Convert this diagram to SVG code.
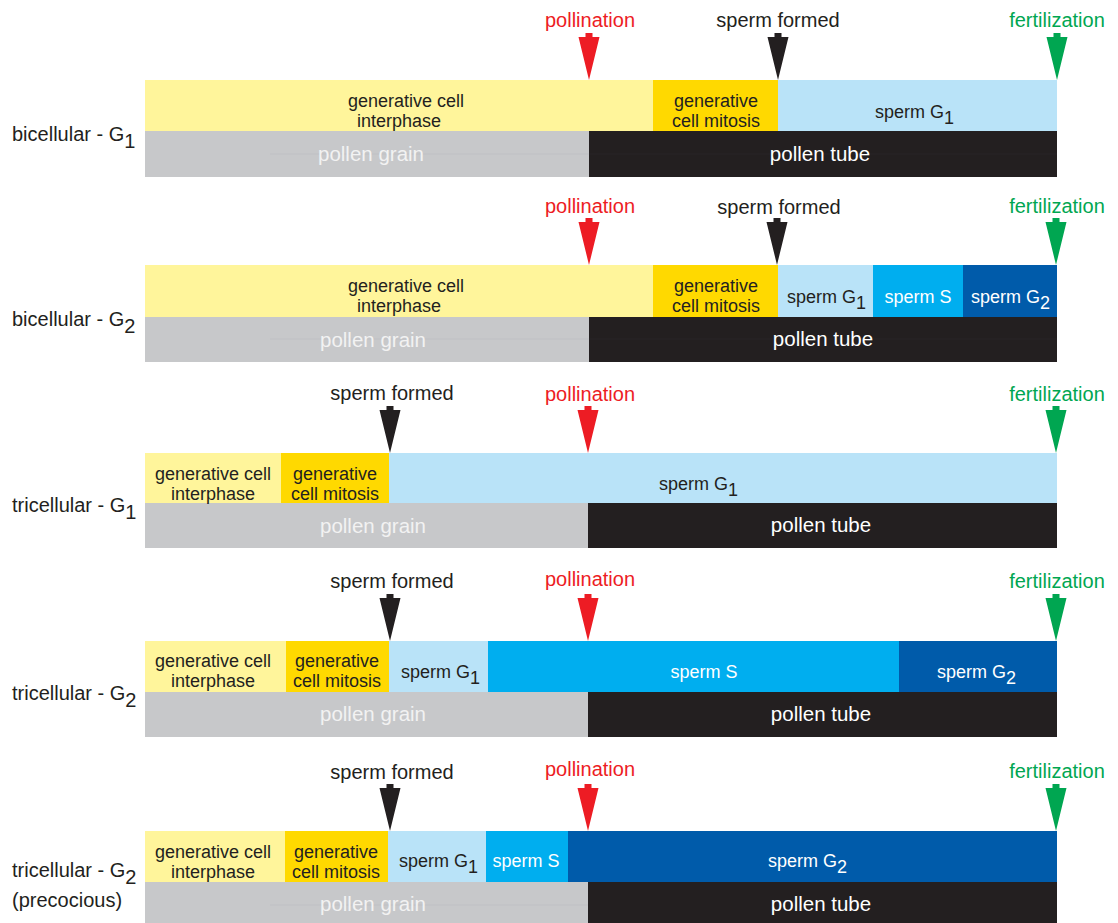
<svg xmlns="http://www.w3.org/2000/svg" xmlns:xlink="http://www.w3.org/1999/xlink" width="1118" height="923" viewBox="0 0 1118 923">
<style>
text{font-family:"Liberation Sans",Arial,sans-serif;}
.lbl{font-size:20px;text-anchor:middle;}
.side{font-size:20px;fill:#231f20;}
.bar{font-size:18px;fill:#231f20;}
.mid{text-anchor:middle;}
.w{fill:#ffffff;}
.pg{font-size:20.5px;fill:#f2f2f2;text-anchor:middle;}
.pt{font-size:20.5px;fill:#ffffff;text-anchor:middle;}
.red{fill:#ed1c24;}
.blk{fill:#231f20;}
.grn{fill:#00a651;}
.c-int{fill:#fff59b;}
.c-mit{fill:#ffd900;}
.c-g1{fill:#b9e3f8;}
.c-s{fill:#00aeef;}
.c-g2{fill:#005baa;}
.c-grain{fill:#c7c8ca;}
.c-tube{fill:#231f20;}
.seam{stroke:#bcbdbf;stroke-width:0.6;}
.seamd{stroke:#2e2a2b;stroke-width:0.6;}
</style>
<defs>
<path id="arr" d="M-3.5,-47 h7 v4 h7 L0,0 L-10.5,-43 h7 z"/>
</defs>

<g id="row1">
<text class="side" x="12" y="141">bicellular - G<tspan dy="7">1</tspan></text>
<rect class="c-int" x="145" y="80" width="509" height="51"/>
<rect class="c-mit" x="653" y="80" width="125" height="51"/>
<rect class="c-g1" x="778" y="80" width="279" height="51"/>
<rect class="c-grain" x="145" y="131" width="444" height="46"/>
<rect class="c-tube" x="589" y="131" width="468" height="46"/>
<line class="seam" x1="270" y1="154" x2="589" y2="154"/>
<line class="seamd" x1="589" y1="154" x2="1057" y2="154"/>
<text class="bar mid" x="406" y="107">generative cell</text>
<text class="bar mid" x="399" y="127">interphase</text>
<text class="bar mid" x="716" y="107">generative</text>
<text class="bar mid" x="716" y="127">cell mitosis</text>
<text class="bar" x="875" y="118">sperm G<tspan dy="6">1</tspan></text>
<text class="pg" x="371" y="161">pollen grain</text>
<text class="pt" x="820" y="161">pollen tube</text>
</g>

<g id="row2">
<text class="side" x="12" y="326">bicellular - G<tspan dy="7">2</tspan></text>
<rect class="c-int" x="145" y="265" width="509" height="52"/>
<rect class="c-mit" x="653" y="265" width="125" height="52"/>
<rect class="c-g1" x="778" y="265" width="95" height="52"/>
<rect class="c-s" x="873" y="265" width="90" height="52"/>
<rect class="c-g2" x="963" y="265" width="94" height="52"/>
<rect class="c-grain" x="145" y="317" width="444" height="45"/>
<rect class="c-tube" x="589" y="317" width="468" height="45"/>
<line class="seam" x1="270" y1="339" x2="589" y2="339"/>
<line class="seamd" x1="589" y1="339" x2="1057" y2="339"/>
<text class="bar mid" x="406" y="292">generative cell</text>
<text class="bar mid" x="399" y="312">interphase</text>
<text class="bar mid" x="716" y="292">generative</text>
<text class="bar mid" x="716" y="312">cell mitosis</text>
<text class="bar" x="787" y="303">sperm G<tspan dy="6">1</tspan></text>
<text class="bar w mid" x="918" y="303">sperm S</text>
<text class="bar w" x="971" y="303">sperm G<tspan dy="6">2</tspan></text>
<text class="pg" x="373" y="347">pollen grain</text>
<text class="pt" x="823" y="346">pollen tube</text>
</g>

<g id="row3">
<text class="side" x="12" y="512">tricellular - G<tspan dy="7">1</tspan></text>
<rect class="c-int" x="145" y="453" width="137" height="50"/>
<rect class="c-mit" x="281" y="453" width="109" height="50"/>
<rect class="c-g1" x="389" y="453" width="668" height="50"/>
<rect class="c-grain" x="145" y="503" width="444" height="45"/>
<rect class="c-tube" x="588" y="503" width="469" height="45"/>
<text class="bar mid" x="213" y="480">generative cell</text>
<text class="bar mid" x="213" y="500">interphase</text>
<text class="bar mid" x="335" y="480">generative</text>
<text class="bar mid" x="335" y="500">cell mitosis</text>
<text class="bar" x="659" y="490">sperm G<tspan dy="6">1</tspan></text>
<text class="pg" x="373" y="533">pollen grain</text>
<text class="pt" x="821" y="532">pollen tube</text>
</g>

<g id="row4">
<text class="side" x="12" y="700">tricellular - G<tspan dy="7">2</tspan></text>
<rect class="c-int" x="145" y="641" width="142" height="51"/>
<rect class="c-mit" x="286" y="641" width="104" height="51"/>
<rect class="c-g1" x="389" y="641" width="100" height="51"/>
<rect class="c-s" x="488" y="641" width="412" height="51"/>
<rect class="c-g2" x="899" y="641" width="158" height="51"/>
<rect class="c-grain" x="145" y="692" width="444" height="45"/>
<rect class="c-tube" x="588" y="692" width="469" height="45"/>
<text class="bar mid" x="213" y="667">generative cell</text>
<text class="bar mid" x="213" y="687">interphase</text>
<text class="bar mid" x="337" y="667">generative</text>
<text class="bar mid" x="337" y="687">cell mitosis</text>
<text class="bar" x="401" y="678">sperm G<tspan dy="6">1</tspan></text>
<text class="bar w mid" x="704" y="678">sperm S</text>
<text class="bar w" x="937" y="678">sperm G<tspan dy="6">2</tspan></text>
<text class="pg" x="373" y="721">pollen grain</text>
<text class="pt" x="821" y="721">pollen tube</text>
</g>

<g id="row5">
<text class="side" x="12" y="877">tricellular - G<tspan dy="7">2</tspan></text>
<text class="side" x="12" y="907">(precocious)</text>
<rect class="c-int" x="145" y="831" width="141" height="51"/>
<rect class="c-mit" x="285" y="831" width="104" height="51"/>
<rect class="c-g1" x="388" y="831" width="99" height="51"/>
<rect class="c-s" x="486" y="831" width="83" height="51"/>
<rect class="c-g2" x="568" y="831" width="489" height="51"/>
<rect class="c-grain" x="145" y="882" width="444" height="45"/>
<rect class="c-tube" x="588" y="882" width="469" height="45"/>
<line class="seam" x1="270" y1="905" x2="588" y2="905"/>
<text class="bar mid" x="213" y="858">generative cell</text>
<text class="bar mid" x="213" y="878">interphase</text>
<text class="bar mid" x="336" y="858">generative</text>
<text class="bar mid" x="336" y="878">cell mitosis</text>
<text class="bar" x="399" y="867">sperm G<tspan dy="6">1</tspan></text>
<text class="bar w mid" x="526" y="867">sperm S</text>
<text class="bar w" x="768" y="867">sperm G<tspan dy="6">2</tspan></text>
<text class="pg" x="373" y="911">pollen grain</text>
<text class="pt" x="821" y="911">pollen tube</text>
</g>

<g id="connectors">
<text class="lbl red" x="590" y="27">pollination</text>
<text class="lbl blk" x="778" y="27">sperm formed</text>
<text class="lbl grn" x="1057" y="27">fertilization</text>
<use xlink:href="#arr" x="589" y="80" class="red"/>
<use xlink:href="#arr" x="778" y="80" class="blk"/>
<use xlink:href="#arr" x="1057" y="80" class="grn"/>

<text class="lbl red" x="590" y="213">pollination</text>
<text class="lbl blk" x="779" y="214">sperm formed</text>
<text class="lbl grn" x="1057" y="213">fertilization</text>
<use xlink:href="#arr" x="589" y="265" class="red"/>
<use xlink:href="#arr" x="777" y="265" class="blk"/>
<use xlink:href="#arr" x="1056" y="265" class="grn"/>

<text class="lbl blk" x="392" y="400">sperm formed</text>
<text class="lbl red" x="590" y="401">pollination</text>
<text class="lbl grn" x="1057" y="401">fertilization</text>
<use xlink:href="#arr" x="390" y="453" class="blk"/>
<use xlink:href="#arr" x="588" y="453" class="red"/>
<use xlink:href="#arr" x="1056" y="453" class="grn"/>

<text class="lbl blk" x="392" y="588">sperm formed</text>
<text class="lbl red" x="590" y="586">pollination</text>
<text class="lbl grn" x="1057" y="588">fertilization</text>
<use xlink:href="#arr" x="390" y="641" class="blk"/>
<use xlink:href="#arr" x="588" y="641" class="red"/>
<use xlink:href="#arr" x="1056" y="641" class="grn"/>

<text class="lbl blk" x="392" y="779">sperm formed</text>
<text class="lbl red" x="590" y="776">pollination</text>
<text class="lbl grn" x="1057" y="778">fertilization</text>
<use xlink:href="#arr" x="390" y="831" class="blk"/>
<use xlink:href="#arr" x="588" y="831" class="red"/>
<use xlink:href="#arr" x="1056" y="831" class="grn"/>
</g>
</svg>
